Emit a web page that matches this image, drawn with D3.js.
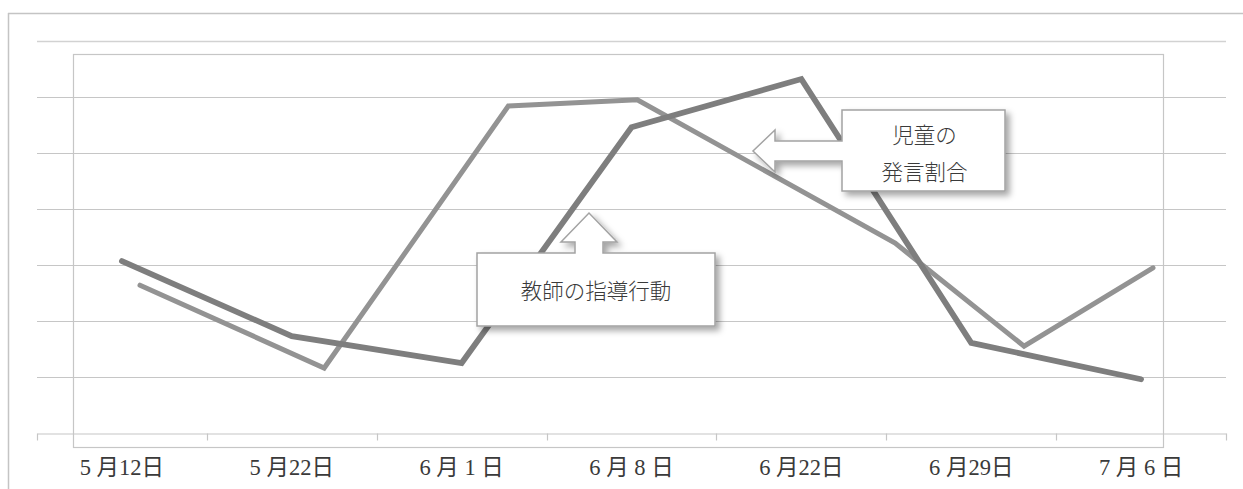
<!DOCTYPE html>
<html>
<head>
<meta charset="utf-8">
<script src="https://cdn.jsdelivr.net/npm/d3@7"></script>
<style>
  html, body { margin: 0; padding: 0; background: #fff; }
  svg { display: block; }
</style>
</head>
<body>
<svg id="chart" width="1243" height="489"></svg>
<script>
// ---- data ----
const categories = ["5 月12日", "5 月22日", "6 月 1 日", "6 月 8 日", "6 月22日", "6 月29日", "7 月 6 日"];
const dates = ["2000-05-12", "2000-05-22", "2000-06-01", "2000-06-08", "2000-06-22", "2000-06-29", "2000-07-06"];
const teacherValues = [3.07, 1.73, 1.25, 5.46, 6.32, 1.61, 0.96];   // 教師の指導行動 (dark line)
const childValues   = [2.64, 1.16, 5.84, 5.95, 3.39, 1.55, 2.95];   // 児童の発言割合 (light line)
const gridValues = [1, 2, 3, 4, 5, 6, 7];
const teacherLabel = "教師の指導行動";
const childLabelLines = ["児童の", "発言割合"];

// ---- layout ----
const W = 1243, H = 489;
const plot = { left: 37, right: 1226, top: 41, bottom: 433 };
const inner = { left: 73, right: 1163, top: 54, bottom: 447 };
const timeRange = [140, 1153];
const FONT = "'Liberation Serif', 'Noto Sans CJK JP', serif";

const svg = d3.select("#chart");
const parse = d3.timeParse("%Y-%m-%d");

const x = d3.scaleBand().domain(categories).range([plot.left, plot.right]).padding(0);
const y = d3.scaleLinear().domain([0, 7]).range([plot.bottom, plot.top]);
const xt = d3.scaleTime().domain([parse(dates[0]), parse(dates[dates.length - 1])]).range(timeRange);

// defs: drop shadow
const defs = svg.append("defs");
const f = defs.append("filter").attr("id", "shadow").attr("x", "-20%").attr("y", "-30%").attr("width", "140%").attr("height", "170%");
f.append("feDropShadow").attr("dx", 4).attr("dy", 4).attr("stdDeviation", 3)
  .attr("flood-color", "#000").attr("flood-opacity", 0.35);

// outer frame (left + top edges)
svg.append("line").attr("x1", 8.5).attr("x2", 8.5).attr("y1", 13).attr("y2", H)
  .attr("stroke", "#c4c4c4").attr("stroke-width", 1.5);
svg.append("line").attr("x1", 8).attr("x2", W).attr("y1", 13.5).attr("y2", 13.5)
  .attr("stroke", "#c4c4c4").attr("stroke-width", 1.5);

// gridlines
svg.append("g").selectAll("line").data(gridValues).join("line")
  .attr("x1", plot.left).attr("x2", plot.right)
  .attr("y1", d => Math.round(y(d)) + 0.5).attr("y2", d => Math.round(y(d)) + 0.5)
  .attr("stroke", d => d === 7 ? "#d2d2d2" : "#c6c6c6")
  .attr("stroke-width", d => d === 7 ? 1.6 : 1.2);

// inner plot frame
svg.append("rect")
  .attr("x", inner.left + 0.5).attr("y", inner.top + 0.5)
  .attr("width", inner.right - inner.left).attr("height", inner.bottom - inner.top)
  .attr("fill", "none").attr("stroke", "#c6c6c6").attr("stroke-width", 1.2);

// x axis
const axis = svg.append("g").attr("transform", `translate(0,${plot.bottom + 0.5})`)
  .call(d3.axisBottom(x).tickSize(0).tickPadding(0));
axis.select(".domain").attr("stroke", "#c6c6c6").attr("stroke-width", 1.2);
axis.selectAll("text")
  .attr("font-family", FONT).attr("font-size", 22.5).attr("fill", "#3a3a3a")
  .attr("y", 34).attr("dy", "0.35em");
// boundary tick marks
const bounds = categories.map(c => x(c)).concat([x(categories[categories.length - 1]) + x.bandwidth()]);
axis.append("g").selectAll("line").data(bounds).join("line")
  .attr("x1", d => Math.round(d) + 0.5).attr("x2", d => Math.round(d) + 0.5)
  .attr("y1", 0).attr("y2", 7)
  .attr("stroke", "#c6c6c6").attr("stroke-width", 1.2);

// lines
const teacherLine = d3.line()
  .x((d, i) => x(categories[i]) + x.bandwidth() / 2)
  .y(d => y(d));
const childLine = d3.line()
  .x((d, i) => xt(parse(dates[i])))
  .y(d => y(d));

svg.append("path").datum(childValues).attr("d", childLine)
  .attr("fill", "none").attr("stroke", "#939393").attr("stroke-width", 5)
  .attr("stroke-linecap", "round").attr("stroke-linejoin", "miter");
svg.append("path").datum(teacherValues).attr("d", teacherLine)
  .attr("fill", "none").attr("stroke", "#7e7e7e").attr("stroke-width", 5.8)
  .attr("stroke-linecap", "round").attr("stroke-linejoin", "miter");

// callout: 教師の指導行動 (up arrow)
{
  const bx0 = 477, bx1 = 715, by0 = 253, by1 = 326;
  const tipX = 589, tipY = 213, headY = 242, headHalf = 28, shaftHalf = 14;
  const p = d3.path();
  p.moveTo(bx0, by0);
  p.lineTo(tipX - shaftHalf, by0);
  p.lineTo(tipX - shaftHalf, headY);
  p.lineTo(tipX - headHalf, headY);
  p.lineTo(tipX, tipY);
  p.lineTo(tipX + headHalf, headY);
  p.lineTo(tipX + shaftHalf, headY);
  p.lineTo(tipX + shaftHalf, by0);
  p.lineTo(bx1, by0);
  p.lineTo(bx1, by1);
  p.lineTo(bx0, by1);
  p.closePath();
  svg.append("path").attr("d", p.toString())
    .attr("fill", "#fff").attr("stroke", "#a3a3a3").attr("stroke-width", 1.5)
    .attr("filter", "url(#shadow)");
  svg.append("text").attr("x", (bx0 + bx1) / 2).attr("y", 291)
    .attr("text-anchor", "middle").attr("dy", "0.35em")
    .attr("font-family", FONT).attr("font-size", 21.5).attr("font-weight", 300).attr("fill", "#3a3a3a")
    .text(teacherLabel);
}

// callout: 児童の発言割合 (left arrow)
{
  const bx0 = 842, bx1 = 1005, by0 = 110, by1 = 191;
  const tipX = 753, tipY = 151, headX = 775, headHalf = 21, shaftHalf = 10;
  const p = d3.path();
  p.moveTo(bx0, by0);
  p.lineTo(bx1, by0);
  p.lineTo(bx1, by1);
  p.lineTo(bx0, by1);
  p.lineTo(bx0, tipY + shaftHalf);
  p.lineTo(headX, tipY + shaftHalf);
  p.lineTo(headX, tipY + headHalf);
  p.lineTo(tipX, tipY);
  p.lineTo(headX, tipY - headHalf);
  p.lineTo(headX, tipY - shaftHalf);
  p.lineTo(bx0, tipY - shaftHalf);
  p.closePath();
  svg.append("path").attr("d", p.toString())
    .attr("fill", "#fff").attr("stroke", "#a3a3a3").attr("stroke-width", 1.5)
    .attr("filter", "url(#shadow)");
  svg.append("g").selectAll("text").data(childLabelLines).join("text")
    .attr("x", (bx0 + bx1) / 2 + 1)
    .attr("y", (d, i) => 135 + i * 37)
    .attr("text-anchor", "middle").attr("dy", "0.35em")
    .attr("font-family", FONT).attr("font-size", 21.5).attr("font-weight", 300).attr("fill", "#3a3a3a")
    .text(d => d);
}
</script>
</body>
</html>
